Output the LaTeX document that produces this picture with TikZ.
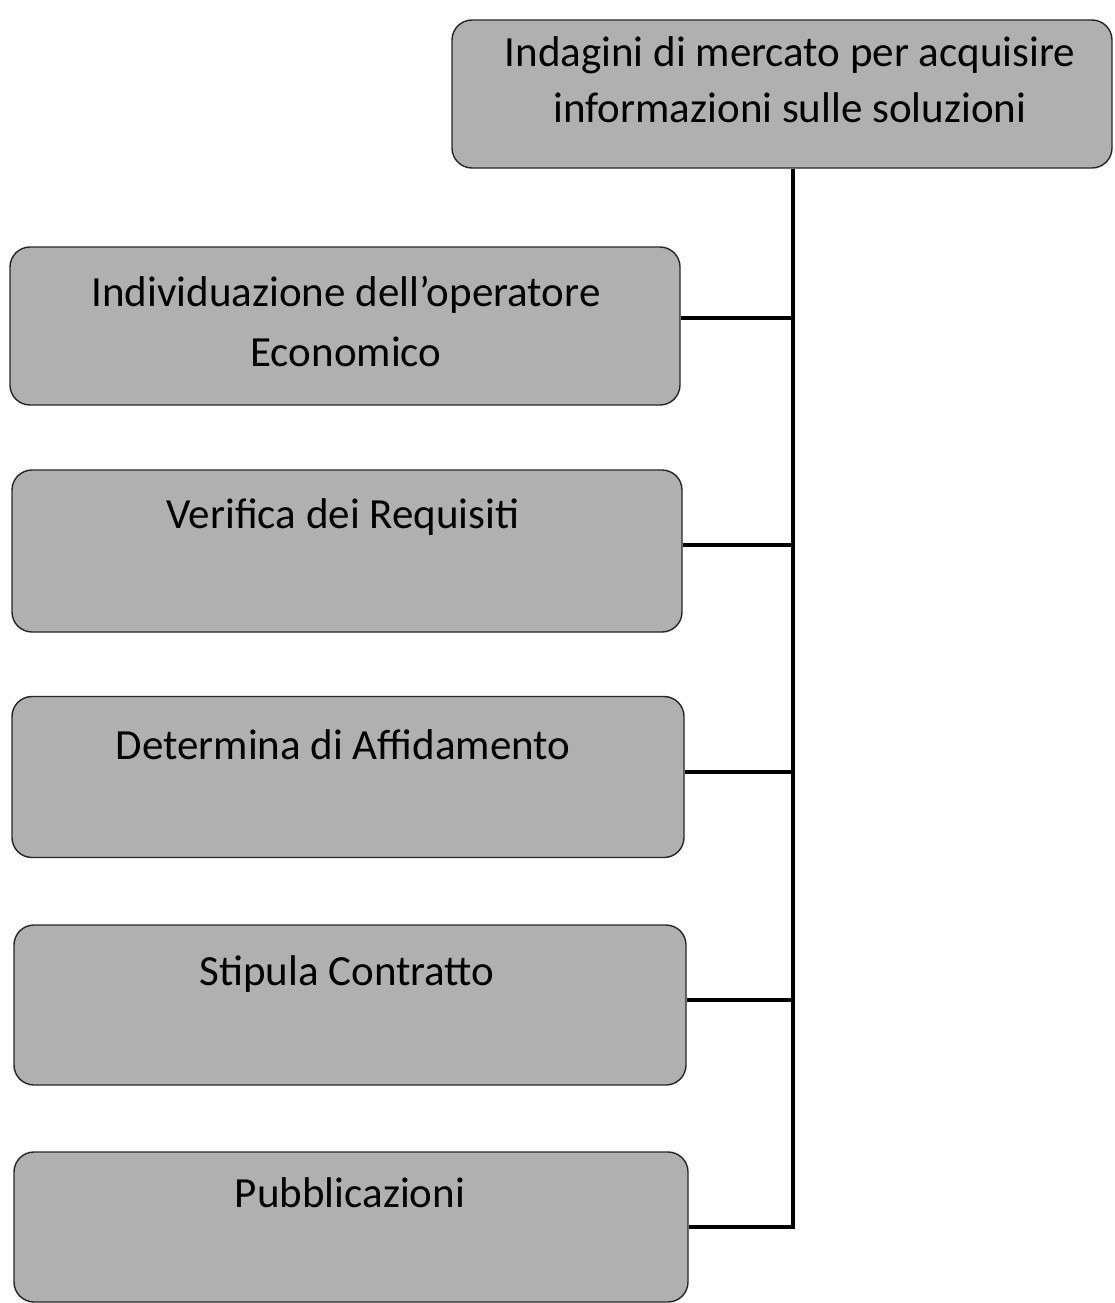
\documentclass[tikz,border=0pt]{standalone}
\usepackage{fontspec}
\setmainfont{Carlito}
\definecolor{boxfill}{RGB}{176,176,176}
\begin{document}
\begin{tikzpicture}[x=1pt,y=-1pt,
  box/.style={draw=black!85, line width=1.4pt, fill=boxfill, rounded corners=20pt, inner sep=0pt},
  txt/.style={anchor=base, font=\fontsize{43}{57}\selectfont, text=black, inner sep=0pt},
  conn/.style={draw=black, line width=3.5pt}]
\useasboundingbox (0,0) rectangle (1115,1303);
% top box
\node[box, minimum width=660pt, minimum height=148pt] (top) at (782,94) {};
\node[txt] (ttopa) at (790,67) {Indagini di mercato per acquisire};
\node[txt] (ttopb) at (790,123) {informazioni sulle soluzioni};
% left boxes
\node[box, minimum width=670pt, minimum height=158pt] (b1) at (345,326) {};
\node[txt] (t1a) at (346,306) {Individuazione dell’operatore};
\node[txt] (t1b) at (346,366) {Economico};
\node[box, minimum width=670pt, minimum height=162pt] (b2) at (347,551) {};
\node[txt] (t2) at (343,528) {Verifica dei Requisiti};
\node[box, minimum width=672pt, minimum height=161pt] (b3) at (348,777) {};
\node[txt] (t3) at (343,759) {Determina di Affidamento};
\node[box, minimum width=672pt, minimum height=160pt] (b4) at (350,1005) {};
\node[txt] (t4) at (347,985) {Stipula Contratto};
\node[box, minimum width=674pt, minimum height=150pt] (b5) at (351,1227) {};
\node[txt] (t5) at (350,1207) {Pubblicazioni};
% connectors
\coordinate (c1) at (793,318);
\coordinate (c2) at (793,545);
\coordinate (c3) at (793,772);
\coordinate (c4) at (793,1000);
\coordinate (c5) at (793,1227);
\draw[conn] (top.south -| c1) -- (c5) -- (b5.east |- c5);
\draw[conn] (c1) -- (b1.east |- c1);
\draw[conn] (c2) -- (b2.east |- c2);
\draw[conn] (c3) -- (b3.east |- c3);
\draw[conn] (c4) -- (b4.east |- c4);
\end{tikzpicture}
\end{document}
